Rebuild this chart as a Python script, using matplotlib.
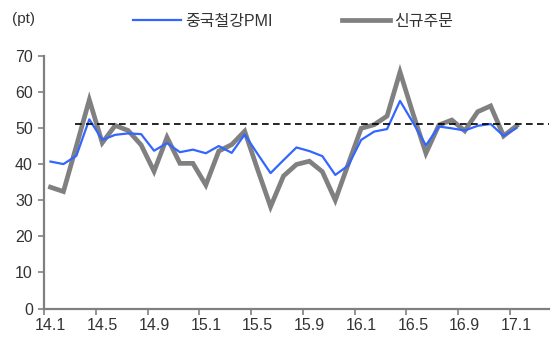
import matplotlib
matplotlib.use("Agg")
import matplotlib.pyplot as plt
from matplotlib.ticker import FixedLocator, FixedFormatter

plt.rcParams['font.family'] = ['Liberation Sans', 'Noto Sans CJK KR', 'DejaVu Sans']

# Monthly categories 14.1 .. 17.1
months = [f"{y}.{m}" for y in (14, 15, 16) for m in range(1, 13)] + ["17.1"]
extra_categories = 2  # empty category slots at the right end of the axis

pmi = [40.7, 40.0, 42.3, 52.4, 46.7, 48.1, 48.5, 48.3, 43.7, 45.8,
       43.3, 44.0, 43.0, 45.0, 43.1, 48.2, 42.8, 37.5, 41.1, 44.6,
       43.6, 42.2, 37.0, 39.6, 46.7, 49.0, 49.7, 57.5, 51.5, 45.2,
       50.4, 49.9, 49.3, 50.6, 51.1, 47.8, 50.0]
new_orders = [33.6, 32.4, 45.0, 57.8, 45.9, 50.7, 49.3, 45.3, 38.0, 47.4,
              40.2, 40.2, 34.2, 43.6, 45.4, 49.1, 38.5, 28.2, 36.7, 39.9,
              40.8, 37.9, 30.0, 40.0, 49.9, 50.9, 53.3, 65.5, 54.0, 43.0,
              50.8, 52.2, 49.2, 54.5, 56.1, 47.8, 50.6]
ref_level = 51.0
ref_start_index = 2

series_names = ["중국철강PMI", "신규주문"]
yticks = [0, 10, 20, 30, 40, 50, 60, 70]
label_step = 4

fig = plt.figure(figsize=(5.55, 3.40), dpi=100)
ax = fig.add_axes([0.0793, 0.0926, 0.9097, 0.7434])

x = list(range(len(months)))
n_total = len(months) + extra_categories
ax.plot(x, new_orders, color="#808080", lw=3.4, zorder=2,
        solid_joinstyle="miter", label=series_names[1])
ax.plot(x, pmi, color="#3366FF", lw=1.6, zorder=3, label=series_names[0])
ax.hlines(ref_level, ref_start_index - 0.1, n_total - 0.5, colors="black",
          linestyles=(0, (4, 2.6)), lw=1.2, zorder=4)

ax.set_xlim(-0.5, n_total - 0.5)
ax.set_ylim(yticks[0], yticks[-1])

axis_col = "#808080"
text_col = "#333333"
for s in ("top", "right"):
    ax.spines[s].set_visible(False)
for s in ("left", "bottom"):
    ax.spines[s].set_color(axis_col)
    ax.spines[s].set_linewidth(1.6)

label_pos = x[::label_step]
ax.xaxis.set_major_locator(FixedLocator([p - 0.5 for p in label_pos]))
ax.xaxis.set_major_formatter(FixedFormatter([""] * len(label_pos)))
ax.xaxis.set_minor_locator(FixedLocator(label_pos))
ax.xaxis.set_minor_formatter(FixedFormatter(months[::label_step]))
ax.tick_params(axis="x", which="major", length=4, width=1.2, color=axis_col)
ax.tick_params(axis="x", which="minor", length=0, pad=7, labelsize=11.5,
               labelcolor=text_col)

ax.set_yticks(yticks)
ax.tick_params(axis="y", length=4, width=1.2, color=axis_col, pad=4,
               labelsize=11.5, labelcolor=text_col)

fig.text(0.022, 0.945, "(pt)", fontsize=11, color=text_col, va="center")

h, l = ax.get_legend_handles_labels()
fig.legend(h[::-1], l[::-1], loc="center", bbox_to_anchor=(0.528, 0.937), ncol=2,
           frameon=False, fontsize=11.5, handlelength=3.0, handletextpad=0.3,
           columnspacing=4.3, labelcolor=text_col)

fig.savefig("out.png", dpi=100)
